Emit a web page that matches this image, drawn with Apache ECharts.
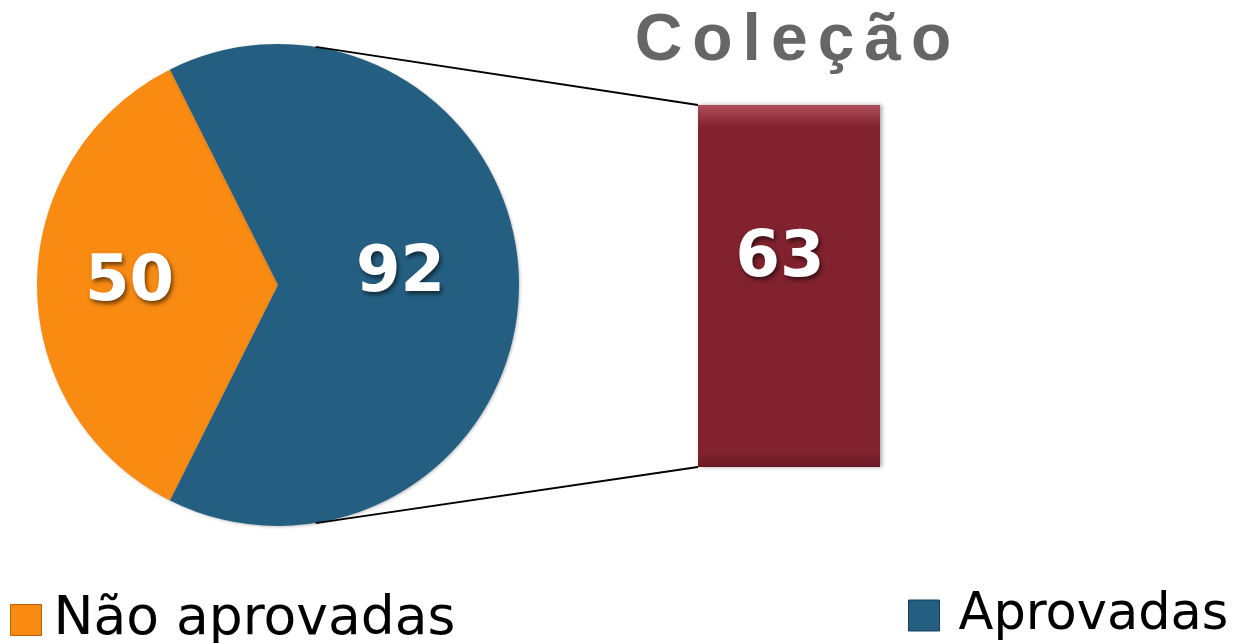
<!DOCTYPE html>
<html>
<head>
<meta charset="utf-8">
<script src="https://cdn.jsdelivr.net/npm/echarts@6/dist/echarts.min.js"></script>
<style>
  html, body { margin: 0; padding: 0; background: #fff; }
  #main { width: 1246px; height: 643px; }
</style>
</head>
<body>
<div id="main"></div>
<script>
// dados do gráfico
var TITLE = 'Coleção';
var pieNames = ['Não aprovadas', 'Aprovadas'];
var pieValues = [50, 92];
var pieColors = ['#F98A12', '#245F82'];
var barCategories = ['Coleção'];
var barValues = [63];
var barColor = '#81222E';

var chart = echarts.init(document.getElementById('main'));

// titulo com letras espaçadas (rich text, uma letra por bloco)
var titleText = TITLE.split('').map(function (c) { return '{s|' + c + '}'; }).join('');

var labelStyle = {
  color: '#fff',
  fontFamily: 'DejaVu Sans',
  fontWeight: 'bold',
  fontSize: 64,
  textShadowColor: 'rgba(0,0,0,0.55)',
  textShadowBlur: 4,
  textShadowOffsetX: 2,
  textShadowOffsetY: 3
};

// fatia laranja centrada à esquerda
var total = pieValues[0] + pieValues[1];
var orangeSpan = pieValues[0] / total * 360;
var startAngle = 180 + orangeSpan / 2;

var PIE_C = [278, 285];
var PIE_R = 241;

var option = {
  backgroundColor: '#fff',
  animation: false,
  title: {
    text: titleText,
    left: 788,
    top: 4,
    textAlign: 'center',
    textStyle: {
      rich: {
        s: {
          fontFamily: 'Liberation Sans',
          fontWeight: 'bold',
          fontSize: 66,
          color: '#666666',
          padding: [0, 5]
        }
      }
    }
  },
  legend: [{
    data: [pieNames[0]],
    left: 10,
    top: 593,
    padding: 0,
    itemWidth: 31,
    itemHeight: 31,
    icon: 'rect',
    itemStyle: { borderColor: '#B8620A', borderWidth: 1 },
    textStyle: { fontFamily: 'DejaVu Sans', fontSize: 53.5, color: '#000', padding: [0, 0, 0, 7] }
  }, {
    data: [pieNames[1]],
    left: 908,
    top: 590,
    padding: 0,
    itemWidth: 31,
    itemHeight: 31,
    icon: 'rect',
    itemStyle: { borderColor: '#163F58', borderWidth: 1 },
    textStyle: { fontFamily: 'DejaVu Sans', fontSize: 51, color: '#000', padding: [0, 0, 0, 14] }
  }],
  grid: { left: 698, top: 105, width: 182, height: 362 },
  xAxis: { type: 'category', data: barCategories, show: false },
  yAxis: { type: 'value', min: 0, max: 63, show: false },
  series: [{
    type: 'pie',
    center: PIE_C,
    radius: PIE_R,
    startAngle: startAngle,
    clockwise: true,
    label: {
      show: true,
      position: 'inside',
      formatter: '{c}'
    },
    labelLine: { show: false },
    emphasis: { disabled: true },
    itemStyle: {
      borderWidth: 0,
      shadowColor: 'rgba(0,0,0,0.25)',
      shadowBlur: 3,
      shadowOffsetX: 1,
      shadowOffsetY: 1
    },
    data: [{
      name: pieNames[0], value: pieValues[0],
      label: Object.assign({ offset: [-25, -2] }, labelStyle)
    }, {
      name: pieNames[1], value: pieValues[1],
      label: Object.assign({ offset: [-1, -11] }, labelStyle)
    }]
  }, {
    type: 'bar',
    data: barValues,
    barWidth: '100%',
    itemStyle: {
      color: new echarts.graphic.LinearGradient(0, 0, 0, 1, [
        { offset: 0, color: '#B04E5C' }, { offset: 0.06, color: '#81222E' },
        { offset: 0.96, color: '#81222E' }, { offset: 1, color: '#6A1A25' }
      ]),
      shadowColor: 'rgba(0,0,0,0.35)',
      shadowBlur: 4,
      shadowOffsetX: 2
    },
    label: Object.assign({ show: true, position: 'inside', offset: [-9, -27], formatter: '{c}' }, labelStyle),
    emphasis: { disabled: true }
  }],
  color: pieColors.concat([barColor])
};

chart.setOption(option);

// linhas de ligação entre a pizza e a barra
var barTop = chart.convertToPixel({ xAxisIndex: 0, yAxisIndex: 0 }, [0, barValues[0]]);
var barBase = chart.convertToPixel({ xAxisIndex: 0, yAxisIndex: 0 }, [0, 0]);
var barLeft = barTop[0] - 91;
var ang = 81 * Math.PI / 180;
chart.setOption({
  graphic: [{
    type: 'line', z: 100,
    shape: { x1: PIE_C[0] + PIE_R * Math.cos(ang), y1: PIE_C[1] - PIE_R * Math.sin(ang), x2: barLeft, y2: barTop[1] },
    style: { stroke: '#000', lineWidth: 1.8 }
  }, {
    type: 'line', z: 100,
    shape: { x1: PIE_C[0] + PIE_R * Math.cos(ang), y1: PIE_C[1] + PIE_R * Math.sin(ang), x2: barLeft, y2: barBase[1] },
    style: { stroke: '#000', lineWidth: 1.8 }
  }]
});
</script>
</body>
</html>
